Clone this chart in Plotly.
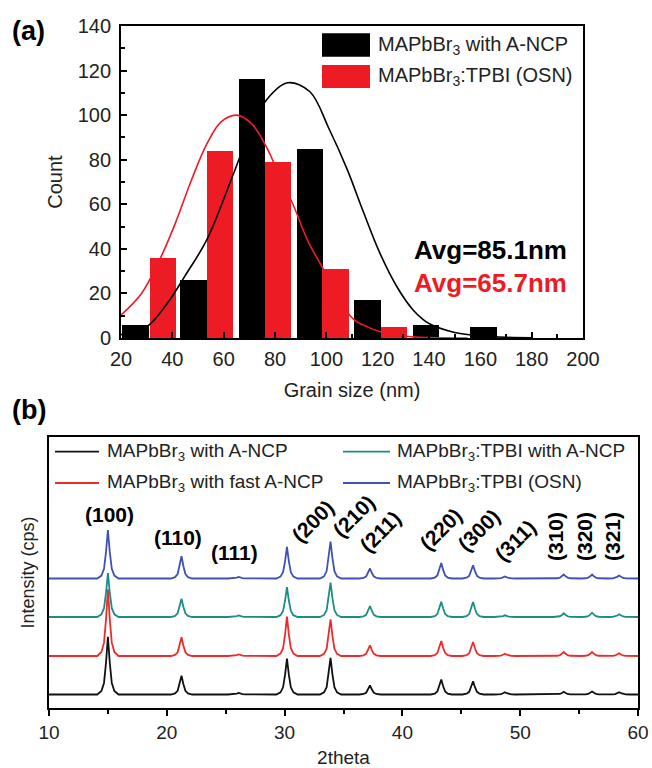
import plotly.graph_objects as go

# ---------------- data: (a) grain size histogram ----------------
black_bar_x = [25.7, 48.2, 71.0, 93.6, 116.0, 138.8, 161.2]
black_bar_count = [6, 26, 116, 85, 17, 6, 5]
red_bar_x = [36.4, 58.6, 81.2, 103.5, 126.3]
red_bar_count = [36, 84, 79, 31, 5]

black_fit_x = [20, 30, 38, 45, 53.4, 63.6, 70, 76.8, 85, 93.6, 101, 108, 114.3, 120.9, 127.5, 133.8, 140, 150, 160, 170, 180]
black_fit_y = [1.5, 5, 15.5, 28, 44, 73, 92, 107, 114.5, 110.5, 94, 76, 57, 38, 23, 12.6, 6.5, 2.5, 1, 0.3, 0.1]
red_fit_x = [20, 28, 35, 41, 47.5, 53.4, 59, 65.1, 71, 77, 82, 87, 93, 98.8, 104, 110.5, 116, 121, 130, 140, 155]
red_fit_y = [10.3, 20, 35, 51, 71, 87, 97, 100, 96, 85, 72, 60, 43, 31, 19, 8.5, 5, 2.8, 0.9, 0.2, 0]

# ---------------- data: (b) XRD ----------------
peak_pos = [15.0, 21.25, 26.1, 30.2, 33.9, 37.25, 43.3, 46.0, 48.7, 53.7, 56.1, 58.4]
h_black = [57.7, 18.7, 1.5, 36.0, 36.7, 9.0, 15.0, 13.3, 2.3, 2.7, 3.0, 2.3]
h_red = [66.7, 18.7, 1.5, 39.3, 36.7, 10.7, 15.0, 14.0, 2.3, 4.0, 4.0, 2.7]
h_teal = [44.0, 18.3, 1.5, 30.0, 34.3, 11.0, 15.3, 15.0, 1.7, 3.7, 4.3, 2.7]
h_blue = [48.3, 22.3, 1.5, 31.6, 37.0, 10.0, 15.6, 13.3, 2.0, 4.0, 4.0, 3.0]
series_names = ["MAPbBr<sub>3</sub> with A-NCP", "MAPbBr<sub>3</sub> with fast A-NCP",
                "MAPbBr<sub>3</sub>:TPBI with A-NCP", "MAPbBr<sub>3</sub>:TPBI (OSN)"]
hkl_labels = ["(100)", "(110)", "(111)", "(200)", "(210)", "(211)", "(220)", "(300)", "(311)", "(310)", "(320)", "(321)"]

# ---------------- styles / layout positions ----------------
W, H = 652, 768
FONT = "Arial, Liberation Sans, sans-serif"
RED = "#ED1C24"
C_BLACK, C_RED, C_TEAL, C_BLUE = "#111111", "#EE2B2B", "#1C8C84", "#3F51B5"
offsets = [13.5, 52, 91, 129.5]
PROFILE_DX = [-0.9, -0.55, -0.33, -0.16, 0, 0.16, 0.33, 0.55, 0.9]
PROFILE_F = [0, 0.06, 0.2, 0.55, 1, 0.55, 0.2, 0.06, 0]
hkl_px = [109.5, 177.5, 235, 312, 353, 380, 440, 478, 515, 555, 584, 612]
hkl_py = [514, 537, 552, 521, 516, 531, 529, 530, 540, 537, 537, 537]
hkl_angle = [0, 0, 0, -45, -45, -45, -45, -45, -45, -90, -90, -90]


def px(x):
    return x / W


def py(y):
    return 1 - y / H


fig = go.Figure()

# (a) bars and fits: black bars, black fit, red bars, red fit
fig.add_trace(go.Bar(x=black_bar_x, y=black_bar_count, width=10.3, marker=dict(color="black", line=dict(width=0)),
                     name="MAPbBr<sub>3</sub> with A-NCP", showlegend=False, xaxis="x", yaxis="y"))
fig.add_trace(go.Scatter(x=black_fit_x, y=black_fit_y, mode="lines", line=dict(color="black", width=1.6, shape="spline"),
                         showlegend=False, xaxis="x", yaxis="y"))
fig.add_trace(go.Bar(x=red_bar_x, y=red_bar_count, width=10.3, marker=dict(color=RED, line=dict(width=0)),
                     name="MAPbBr<sub>3</sub>:TPBI (OSN)", showlegend=False, xaxis="x", yaxis="y"))
fig.add_trace(go.Scatter(x=red_fit_x, y=red_fit_y, mode="lines", line=dict(color=RED, width=1.6, shape="spline"),
                         showlegend=False, xaxis="x", yaxis="y"))

# (b) XRD traces
for name, hs, off, col in zip(series_names, [h_black, h_red, h_teal, h_blue], offsets,
                              [C_BLACK, C_RED, C_TEAL, C_BLUE]):
    xs, ys = [10], [off]
    for p, h in zip(peak_pos, hs):
        for dx, f in zip(PROFILE_DX, PROFILE_F):
            xs.append(p + dx)
            ys.append(off + h * f)
    xs.append(60)
    ys.append(off)
    fig.add_trace(go.Scatter(x=xs, y=ys, mode="lines", line=dict(color=col, width=1.8), name=name,
                             showlegend=False, xaxis="x2", yaxis="y2"))

ann = []
shapes = []

# panel labels
ann.append(dict(text="<b>(a)</b>", x=px(28), y=py(31), xref="paper", yref="paper", showarrow=False,
                xanchor="center", yanchor="middle", font=dict(size=27, family=FONT, color="black")))
ann.append(dict(text="<b>(b)</b>", x=px(29), y=py(410), xref="paper", yref="paper", showarrow=False,
                xanchor="center", yanchor="middle", font=dict(size=27, family=FONT, color="black")))

# (a) legend
for (y0, y1), col, txt in zip([(33.3, 56.7), (65, 88)], ["black", RED],
                              ["MAPbBr<sub>3</sub> with A-NCP", "MAPbBr<sub>3</sub>:TPBI (OSN)"]):
    shapes.append(dict(type="rect", xref="paper", yref="paper", x0=px(322), x1=px(370), y0=py(y1), y1=py(y0),
                       fillcolor=col, line=dict(width=0)))
    ann.append(dict(text=txt, x=px(376), y=py((y0 + y1) / 2), xref="paper", yref="paper", xanchor="left",
                    yanchor="middle", showarrow=False, font=dict(size=20, family=FONT, color="#222")))

# averages
ann.append(dict(text="<b>Avg=85.1nm</b>", x=px(569), y=py(250), xref="paper", yref="paper", xanchor="right",
                yanchor="middle", showarrow=False, font=dict(size=26, family=FONT, color="black")))
ann.append(dict(text="<b>Avg=65.7nm</b>", x=px(569), y=py(283), xref="paper", yref="paper", xanchor="right",
                yanchor="middle", showarrow=False, font=dict(size=26, family=FONT, color=RED)))

# (b) legend
leg_pos = [(55, 99, 105, 451.7), (55, 99, 105, 483), (343, 390, 395, 451.7), (343, 390, 395, 483)]
for (lx0, lx1, tx, ly), name, col in zip(leg_pos, series_names, [C_BLACK, C_RED, C_TEAL, C_BLUE]):
    shapes.append(dict(type="line", xref="paper", yref="paper", x0=px(lx0), x1=px(lx1), y0=py(ly), y1=py(ly),
                       line=dict(color=col, width=1.8)))
    ann.append(dict(text=name, x=px(tx), y=py(ly), xref="paper", yref="paper", xanchor="left", yanchor="middle",
                    showarrow=False, font=dict(size=19, family=FONT, color="#222")))

# hkl labels
for t, x, y, a in zip(hkl_labels, hkl_px, hkl_py, hkl_angle):
    ann.append(dict(text="<b>" + t + "</b>", x=px(x), y=py(y), xref="paper", yref="paper", showarrow=False,
                    textangle=a, xanchor="center", yanchor="middle",
                    font=dict(size=21, family=FONT, color="black")))

axis_common = dict(showline=True, linecolor="black", linewidth=1.8, mirror=True, showgrid=False, zeroline=False,
                   tickfont=dict(size=20, family=FONT, color="#222"), tickcolor="black", automargin=False)

fig.update_layout(
    width=W, height=H, margin=dict(l=0, r=0, t=0, b=0, autoexpand=False), paper_bgcolor="white",
    plot_bgcolor="white", barmode="overlay", bargap=0,
    xaxis=dict(domain=[px(121), px(583)], range=[20, 200], dtick=20, ticks="inside", ticklen=6, tickwidth=1.5,
               minor=dict(dtick=10, ticks="inside", ticklen=4, tickcolor="black"), anchor="y",
               title=dict(text="Grain size (nm)", font=dict(size=20, family=FONT, color="#222"), standoff=14),
               ticklabelstandoff=2, **axis_common),
    yaxis=dict(domain=[py(338), py(26)], range=[0, 140], dtick=20, ticks="inside", ticklen=6, tickwidth=1.5,
               minor=dict(dtick=10, ticks="inside", ticklen=4, tickcolor="black"), anchor="x",
               title=dict(text="Count", font=dict(size=20, family=FONT, color="#222"), standoff=10),
               ticklabelstandoff=4, **axis_common),
    xaxis2=dict(domain=[px(49), px(638)], range=[10, 60], dtick=10, ticks="outside", ticklen=6, tickwidth=1.5,
                minor=dict(dtick=5, ticks="outside", ticklen=4, tickcolor="black"), anchor="y2",
                title=dict(text="2theta", font=dict(size=19, family=FONT, color="#222"), standoff=10),
                **{**axis_common, "tickfont": dict(size=19, family=FONT, color="#222")}),
    yaxis2=dict(domain=[py(708), py(437)], range=[0, 271], showticklabels=False, ticks="", anchor="x2",
                title=dict(text="Intensity (cps)", font=dict(size=18, family=FONT, color="#222"), standoff=8),
                **axis_common),
    annotations=ann, shapes=shapes,
)

fig.write_html("out.html", config={"displayModeBar": False},
               post_script="document.body.style.margin='0';document.body.style.padding='0';"
                           "document.documentElement.style.overflow='hidden';document.body.style.overflow='hidden';")
